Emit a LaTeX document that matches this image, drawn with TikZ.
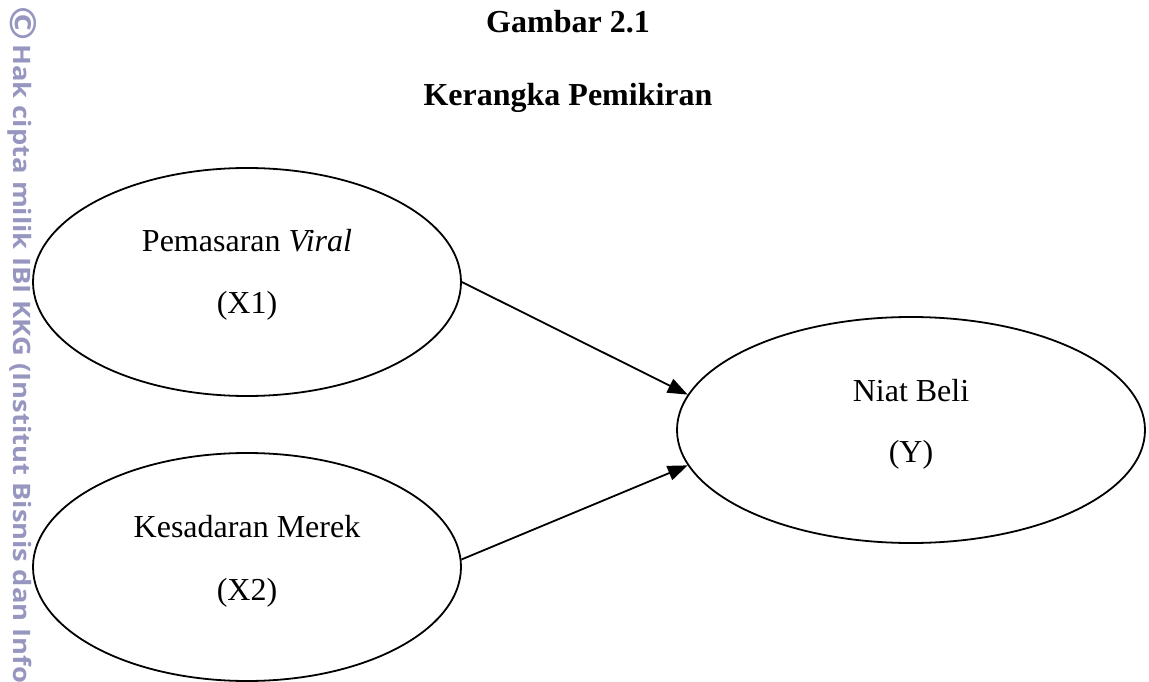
\documentclass[tikz,border=0pt]{standalone}
\usepackage{fontspec}
\setmainfont{Liberation Serif}
\newfontfamily\wmfont[FakeStretch=1.14]{Open Sans}
\usetikzlibrary{shapes.geometric,arrows.meta}
\definecolor{wmgray}{RGB}{150,150,192}
\tikzset{
  var/.style={ellipse,draw,line width=1.8pt,inner sep=0pt,minimum width=428pt,minimum height=228pt},
  txt/.style={anchor=base,inner sep=0pt,font=\fontsize{32}{38}\selectfont},
  ttl/.style={anchor=base,inner sep=0pt,font=\fontsize{32}{38}\selectfont\bfseries},
  arr/.style={-{Triangle[length=20pt,width=15pt]},line width=1.8pt}
}
\begin{document}
\begin{tikzpicture}[x=1pt,y=-1pt]
\useasboundingbox (0,0) rectangle (1149,682);
% watermark
\node[rotate=-90,anchor=west,inner sep=0pt,text=wmgray,font=\wmfont\bfseries\fontsize{24}{30}\selectfont] (wm) at (22,6) {\raisebox{-0.12em}{\fontsize{36}{36}\selectfont ©}\hspace{4pt}Hak cipta milik IBI KKG (Institut Bisnis dan Info};

% title
\node[ttl] (gbr) at (568,33) {Gambar 2.1};
\node[ttl] (krk) at (568,106) {Kerangka Pemikiran};

% variables
\node[var] (X1) at (247,282) {};
\node[var] (X2) at (247,567) {};
\node[var,minimum width=468pt,minimum height=226pt] (Y) at (911,430) {};

\node[txt] (X1a) at ([yshift=31pt]X1.center) {Pemasaran \textit{Viral}};
\node[txt] (X1b) at ([yshift=-31pt]X1.center) {(X1)};
\node[txt] (X2a) at ([yshift=30pt]X2.center) {Kesadaran Merek};
\node[txt] (X2b) at ([yshift=-33pt]X2.center) {(X2)};
\node[txt] (Ya) at ([yshift=29pt]Y.center) {Niat Beli};
\node[txt] (Yb) at ([yshift=-32pt]Y.center) {(Y)};

% paths
\draw[arr] (X1.east) -- (Y.171);
\draw[arr] (X2.2) -- (Y.189);

\end{tikzpicture}
\end{document}
